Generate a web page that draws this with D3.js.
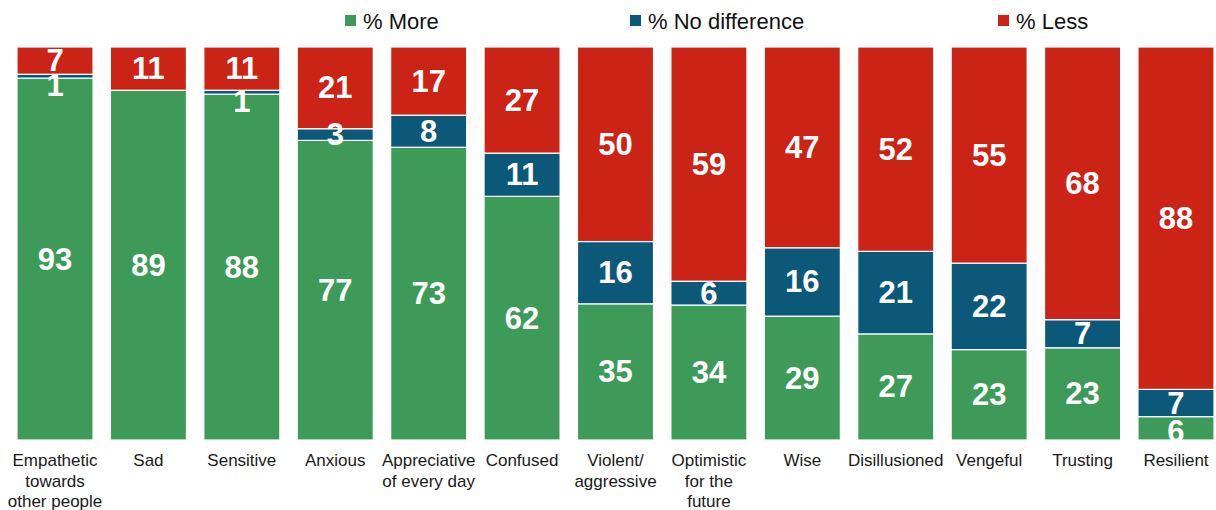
<!DOCTYPE html>
<html>
<head>
<meta charset="utf-8">
<script src="https://cdn.jsdelivr.net/npm/d3@7"></script>
<style>
  html, body { margin: 0; padding: 0; background: #fff; }
  svg { display: block; }
</style>
</head>
<body>
<svg id="chart" width="1216" height="510"></svg>
<script>
const categories = [
  ["Empathetic", "towards", "other people"],
  ["Sad"],
  ["Sensitive"],
  ["Anxious"],
  ["Appreciative", "of every day"],
  ["Confused"],
  ["Violent/", "aggressive"],
  ["Optimistic", "for the", "future"],
  ["Wise"],
  ["Disillusioned"],
  ["Vengeful"],
  ["Trusting"],
  ["Resilient"]
];
const seriesNames = ["% More", "% No difference", "% Less"];
const more         = [93, 89, 88, 77, 73, 62, 35, 34, 29, 27, 23, 23, 6];
const noDifference = [1, 0, 1, 3, 8, 11, 16, 6, 16, 21, 22, 7, 7];
const less         = [7, 11, 11, 21, 17, 27, 50, 59, 47, 52, 55, 68, 88];
const colors = ["#3e9a58", "#0b5878", "#cb2316"];

const series = [more, noDifference, less];
const svg = d3.select("#chart");

const x = d3.scaleBand()
  .domain(d3.range(categories.length))
  .range([0, 1231])
  .paddingInner(0.186)
  .paddingOuter(0.182);
const y = d3.scaleLinear().domain([0, 1]).range([440, 47]);

// normalized stack (100% stacked)
const rows = categories.map((c, i) => {
  const total = more[i] + noDifference[i] + less[i];
  let acc = 0;
  return series.map((s, k) => {
    const v = s[i];
    const y0 = acc / total;
    acc += v;
    const y1 = acc / total;
    return { i, k, v, y0, y1 };
  });
});
const segs = rows.flat();

svg.append("g").selectAll("rect")
  .data(segs.filter(d => d.v > 0))
  .join("rect")
  .attr("x", d => x(d.i))
  .attr("width", x.bandwidth())
  .attr("y", d => y(d.y1))
  .attr("height", d => y(d.y0) - y(d.y1))
  .attr("fill", d => colors[d.k])
  .attr("stroke", "#fff")
  .attr("stroke-width", 1.2);

svg.append("g").selectAll("text")
  .data(segs.filter(d => d.v > 0))
  .join("text")
  .attr("x", d => x(d.i) + x.bandwidth() / 2)
  .attr("y", d => {
    const c = (y(d.y0) + y(d.y1)) / 2;
    const h = y(d.y0) - y(d.y1);
    return c + (h < 8 ? 9 : 0) + (d.k === 0 && h < 30 ? 3 : 0);
  })
  .attr("text-anchor", "middle")
  .attr("dominant-baseline", "central")
  .attr("font-family", "'Liberation Sans', Arial, sans-serif")
  .attr("font-weight", "bold")
  .attr("font-size", 31)
  .attr("fill", "#fff")
  .text(d => d.v);

// category labels
const cat = svg.append("g").selectAll("text")
  .data(categories)
  .join("text")
  .attr("x", (d, i) => x(i) + x.bandwidth() / 2)
  .attr("y", 466)
  .attr("text-anchor", "middle")
  .attr("font-family", "'Liberation Sans', Arial, sans-serif")
  .attr("font-size", 17)
  .attr("fill", "#1a1a1a");
cat.selectAll("tspan")
  .data(d => d)
  .join("tspan")
  .attr("x", function() { return d3.select(this.parentNode).attr("x"); })
  .attr("dy", (d, j) => j === 0 ? 0 : 20.7)
  .text(d => d);

// legend
const legendX = [345, 630, 998];
const lg = svg.append("g").selectAll("g")
  .data(seriesNames)
  .join("g")
  .attr("transform", (d, i) => `translate(${legendX[i]},0)`);
lg.append("rect")
  .attr("x", 0).attr("y", 15).attr("width", 11).attr("height", 11)
  .attr("fill", (d, i) => colors[i]);
lg.append("text")
  .attr("x", 18).attr("y", 28.5)
  .attr("font-family", "'Liberation Sans', Arial, sans-serif")
  .attr("font-size", 22)
  .attr("fill", "#111")
  .text(d => d);
</script>
</body>
</html>
